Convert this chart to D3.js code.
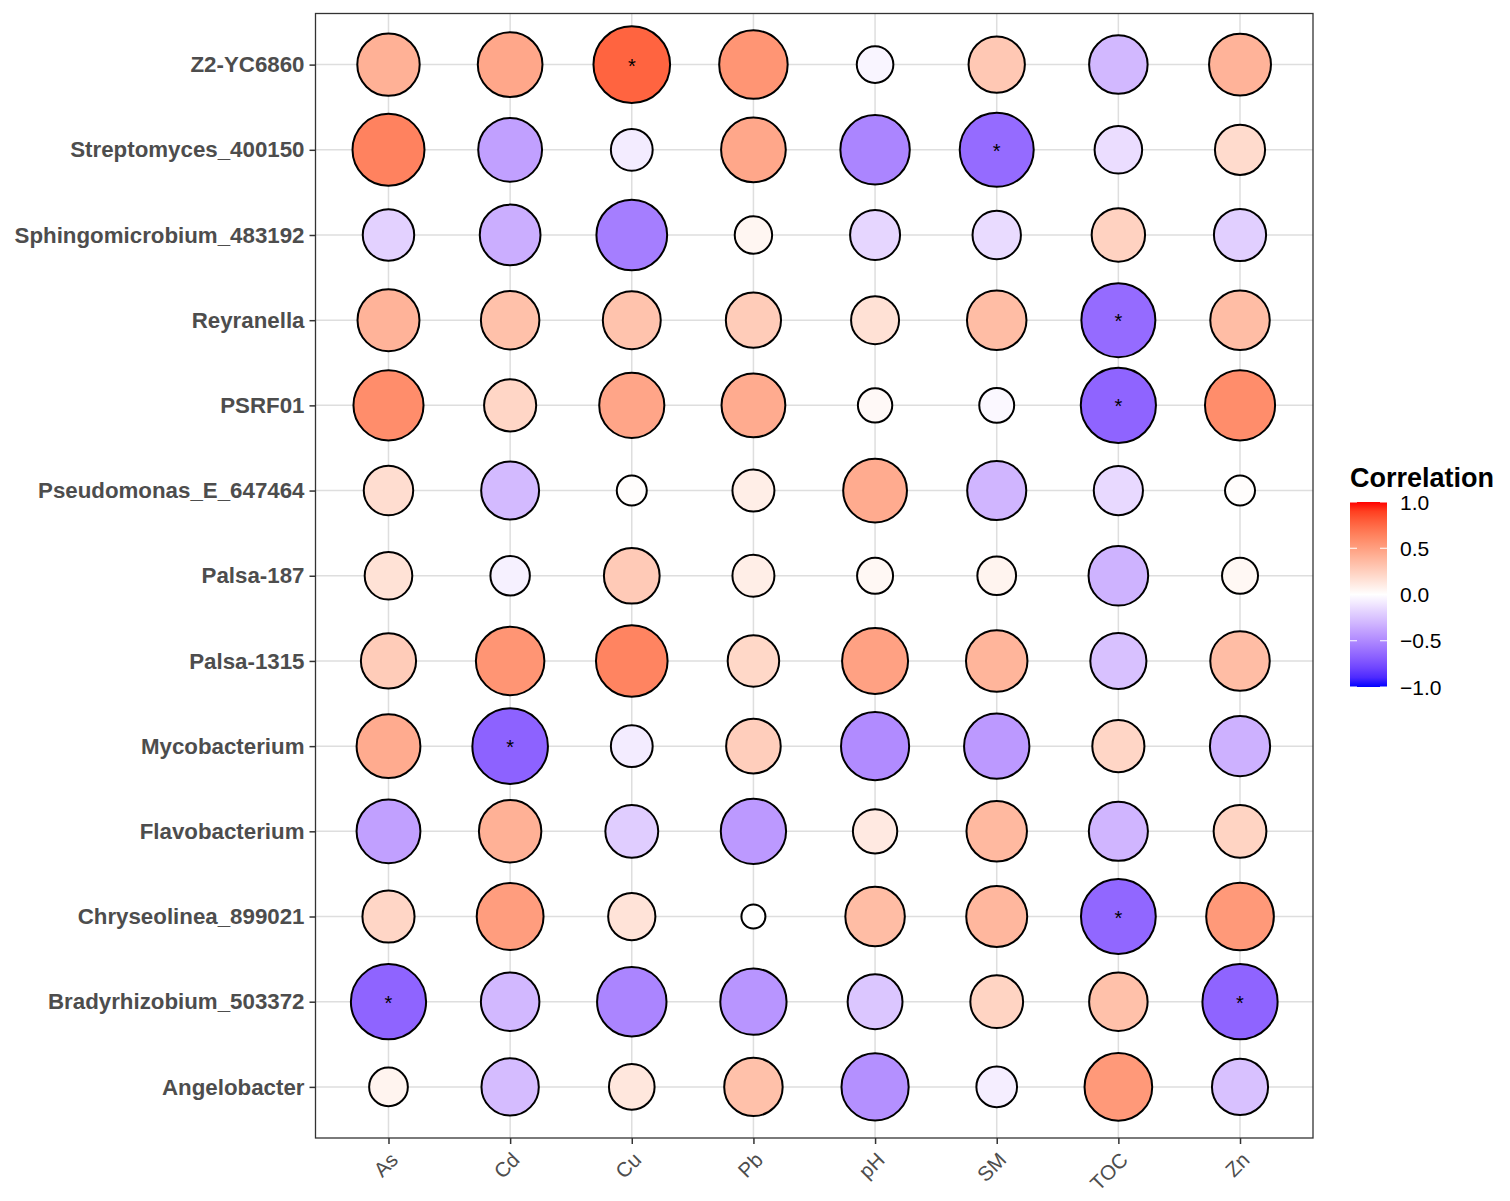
<!DOCTYPE html>
<html>
<head>
<meta charset="utf-8">
<script src="https://cdn.jsdelivr.net/npm/d3@7"></script>
<style>
  body { margin: 0; background: #fff; }
  text { font-family: "Liberation Sans", Arial, Helvetica, sans-serif; }
</style>
</head>
<body>
<svg id="chart" width="1510" height="1201"></svg>
<script>
// rows, top to bottom
const taxa = [
    "Z2-YC6860",
    "Streptomyces_400150",
    "Sphingomicrobium_483192",
    "Reyranella",
    "PSRF01",
    "Pseudomonas_E_647464",
    "Palsa-187",
    "Palsa-1315",
    "Mycobacterium",
    "Flavobacterium",
    "Chryseolinea_899021",
    "Bradyrhizobium_503372",
    "Angelobacter",
];
const variables = ["As", "Cd", "Cu", "Pb", "pH", "SM", "TOC", "Zn"];

// correlation per variable, same order as taxa
const As  = [0.41, 0.64, -0.19, 0.40, 0.59, 0.18, 0.155, 0.27, 0.44, -0.40, 0.22, -0.66, 0.06];
const Cd  = [0.46, -0.40, -0.34, 0.33, 0.22, -0.29, -0.06, 0.55, -0.67, 0.41, 0.51, -0.30, -0.28];
const Cu  = [0.77, -0.08, -0.55, 0.32, 0.47, 0.01, 0.28, 0.63, -0.08, -0.21, 0.15, -0.52, 0.13];
const Pb  = [0.55, 0.46, 0.05, 0.27, 0.44, 0.09, 0.09, 0.21, 0.26, -0.43, 0.00, -0.45, 0.33];
const pH  = [-0.04, -0.52, -0.17, 0.16, 0.03, 0.44, 0.04, 0.49, -0.49, 0.115, 0.35, -0.24, -0.47];
const SM  = [0.29, -0.63, -0.15, 0.35, -0.03, -0.31, 0.06, 0.39, -0.43, 0.37, 0.38, 0.23, -0.07];
const TOC = [-0.30, -0.14, 0.24, -0.63, -0.66, -0.16, -0.32, -0.26, 0.22, -0.31, -0.65, 0.33, 0.53];
const Zn  = [0.40, 0.19, -0.20, 0.35, 0.59, 0.01, 0.04, 0.35, -0.33, 0.23, 0.53, -0.66, -0.26];

// cells marked with "*"
const significant = [
    ["Z2-YC6860", "Cu"],
    ["Streptomyces_400150", "SM"],
    ["Reyranella", "TOC"],
    ["PSRF01", "TOC"],
    ["Mycobacterium", "Cd"],
    ["Chryseolinea_899021", "TOC"],
    ["Bradyrhizobium_503372", "As"],
    ["Bradyrhizobium_503372", "Zn"],
];

const legendTicks = [1, 0.5, 0, -0.5, -1];

const columns = { As, Cd, Cu, Pb, pH, SM, TOC, Zn };
const cells = [];
variables.forEach((v) => {
    columns[v].forEach((r, i) => {
        cells.push({
            taxon: taxa[i],
            variable: v,
            r: r,
            sig: significant.some((s) => s[0] === taxa[i] && s[1] === v),
        });
    });
});

const svg = d3.select("#chart");
const panel = { left: 315.5, right: 1313, top: 13.5, bottom: 1138 };

const x = d3.scalePoint().domain(variables).range([panel.left, panel.right]).padding(0.6);
const y = d3.scalePoint().domain(taxa).range([panel.top, panel.bottom]).padding(0.6);

const colour = d3
    .scaleLinear()
    .domain([-1, 0, 1])
    .range(["#0000FF", "#FFFFFF", "#FF0000"])
    .interpolate(d3.interpolateLab);

// negative side drawn a touch larger so sizes match the picture
const radius = (r) => {
    const a = Math.abs(r);
    return 12 + (r < 0 ? 31.5 : 30) * Math.sqrt(Math.min(a, 1));
};

// grid
const grid = svg.append("g").attr("stroke", "#DEDEDE").attr("stroke-width", 1.5);
grid.selectAll("line.v")
    .data(variables)
    .join("line")
    .attr("x1", (d) => x(d))
    .attr("x2", (d) => x(d))
    .attr("y1", panel.top)
    .attr("y2", panel.bottom);
grid.selectAll("line.h")
    .data(taxa)
    .join("line")
    .attr("class", "h")
    .attr("x1", panel.left)
    .attr("x2", panel.right)
    .attr("y1", (d) => y(d))
    .attr("y2", (d) => y(d));

// bubbles
svg.append("g")
    .selectAll("circle")
    .data(cells)
    .join("circle")
    .attr("cx", (d) => x(d.variable))
    .attr("cy", (d) => y(d.taxon))
    .attr("r", (d) => radius(d.r))
    .attr("fill", (d) => colour(d.r))
    .attr("stroke", "#000")
    .attr("stroke-width", 2);

svg.append("g")
    .selectAll("text")
    .data(cells.filter((d) => d.sig))
    .join("text")
    .attr("x", (d) => x(d.variable))
    .attr("y", (d) => y(d.taxon) + 8)
    .attr("text-anchor", "middle")
    .attr("font-size", 20)
    .attr("fill", "#000")
    .text("*");

// panel border
svg.append("rect")
    .attr("x", panel.left)
    .attr("y", panel.top)
    .attr("width", panel.right - panel.left)
    .attr("height", panel.bottom - panel.top)
    .attr("fill", "none")
    .attr("stroke", "#333")
    .attr("stroke-width", 1.3);

// y axis
const yAxis = svg.append("g")
    .attr("transform", `translate(${panel.left},0)`)
    .call(d3.axisLeft(y).tickSize(6).tickPadding(5));
yAxis.select(".domain").remove();
yAxis.selectAll(".tick line").attr("stroke", "#333").attr("stroke-width", 1.5);
yAxis.selectAll(".tick text")
    .attr("font-size", 22.3)
    .attr("font-weight", "bold")
    .attr("fill", "#4D4D4D")
    .attr("font-family", null);

// x axis
const xAxis = svg.append("g")
    .attr("transform", `translate(0,${panel.bottom})`)
    .call(d3.axisBottom(x).tickSize(6).tickPadding(6));
xAxis.select(".domain").remove();
xAxis.selectAll(".tick line").attr("stroke", "#333").attr("stroke-width", 1.5);
xAxis.selectAll(".tick text")
    .attr("font-size", 20.5)
    .attr("fill", "#4D4D4D")
    .attr("font-family", null)
    .attr("text-anchor", "end")
    .attr("dy", "0.71em")
    .attr("y", 0)
    .attr("transform", "translate(0,13) rotate(-45)");

// legend
const legend = { x: 1350, y: 502, w: 37, h: 185 };
const lg = svg.append("g");
lg.append("text")
    .attr("x", legend.x)
    .attr("y", 487)
    .attr("font-size", 27)
    .attr("font-weight", "bold")
    .attr("fill", "#000")
    .text("Correlation");

const grad = svg.append("defs")
    .append("linearGradient")
    .attr("id", "corrGrad")
    .attr("x1", 0).attr("y1", 1).attr("x2", 0).attr("y2", 0);
grad.selectAll("stop")
    .data(d3.range(0, 1.0001, 0.05))
    .join("stop")
    .attr("offset", (d) => d)
    .attr("stop-color", (d) => colour(d * 2 - 1));

const ly = d3.scaleLinear().domain([-1, 1]).range([legend.y + legend.h, legend.y]);

lg.append("rect")
    .attr("x", legend.x)
    .attr("y", legend.y)
    .attr("width", legend.w)
    .attr("height", legend.h)
    .attr("fill", "url(#corrGrad)");

lg.selectAll("line.tl")
    .data(legendTicks)
    .join("line")
    .attr("class", "tl")
    .attr("x1", legend.x)
    .attr("x2", legend.x + 7)
    .attr("y1", (d) => ly(d))
    .attr("y2", (d) => ly(d))
    .attr("stroke", "#fff")
    .attr("stroke-width", 1);
lg.selectAll("line.tr")
    .data(legendTicks)
    .join("line")
    .attr("class", "tr")
    .attr("x1", legend.x + legend.w - 7)
    .attr("x2", legend.x + legend.w)
    .attr("y1", (d) => ly(d))
    .attr("y2", (d) => ly(d))
    .attr("stroke", "#fff")
    .attr("stroke-width", 1);

lg.selectAll("text.lab")
    .data(legendTicks)
    .join("text")
    .attr("class", "lab")
    .attr("x", legend.x + legend.w + 13)
    .attr("y", (d) => ly(d))
    .attr("dy", "0.36em")
    .attr("font-size", 21)
    .attr("fill", "#000")
    .text((d) => d3.format(".1f")(d).replace("-", "\u2212"));
</script>
</body>
</html>
